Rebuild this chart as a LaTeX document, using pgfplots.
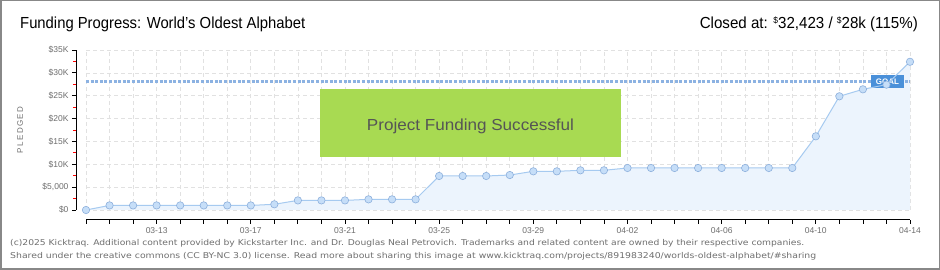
\documentclass[border=0pt]{standalone}
\usepackage{pgfplots}
\pgfplotsset{compat=1.18}
\usepackage{graphicx}
\usepackage{fontspec}
\setmainfont{Liberation Sans}
\newfontfamily\footfont{DejaVu Sans}
\definecolor{linec}{RGB}{166,202,240}
\definecolor{markfill}{RGB}{198,222,248}
\definecolor{markdraw}{RGB}{140,175,220}
\definecolor{areac}{RGB}{236,244,253}
\definecolor{goalc}{RGB}{140,178,226}
\definecolor{goalbox}{RGB}{74,144,217}
\definecolor{greenbox}{RGB}{168,218,82}
\definecolor{gridc}{RGB}{225,225,225}
\definecolor{labc}{RGB}{110,110,110}
\definecolor{framec}{RGB}{136,136,136}

\pgfplotstableread{
day value
0 0
1 1000
2 1000
3 1000
4 1000
5 1000
6 1000
7 1000
8 1250
9 2100
10 2100
11 2100
12 2330
13 2330
14 2330
15 7440
16 7440
17 7440
18 7650
19 8460
20 8460
21 8680
22 8680
23 9190
24 9190
25 9190
26 9190
27 9190
28 9190
29 9190
30 9190
31 16120
32 24870
33 26400
34 27420
35 32423
}\pledged

\begin{document}
\begin{tikzpicture}[x=1pt,y=1pt]
\fill[white] (0,0) rectangle (940,270);
\draw[framec, line width=1.5pt] (0.75,0.75) rectangle (939.25,269.25);
\node[anchor=west, inner sep=0] at (20,245.5) {\resizebox{285pt}{\height}{\fontsize{16}{16}\selectfont Funding Progress: World's Oldest Alphabet}};
\node[anchor=east, inner sep=0] at (918,245.5) {\resizebox{218pt}{\height}{\fontsize{16}{16}\selectfont Closed at: \raisebox{0.35em}{\fontsize{9}{9}\selectfont\$}32,423 / \raisebox{0.35em}{\fontsize{9}{9}\selectfont\$}28k (115\%)}};
\begin{axis}[
  at={(86pt,60pt)}, anchor=south west,
  width=824pt, height=160pt, scale only axis,
  xmin=0, xmax=35, ymin=0, ymax=35000,
  scaled y ticks=false,
  separate axis lines,
  axis x line*=bottom, axis y line*=left,
  axis x line shift=10pt, axis y line shift=10pt,
  axis line style={black, line width=1pt, -},
  xtick={3,7,...,35},
  xticklabels={03-13,03-17,03-21,03-25,03-29,04-02,04-06,04-10,04-14},
  minor xtick={0,...,35},
  ytick={0,5000,...,35000},
  yticklabels={\$0,{\$5,000},\$10K,\$15K,\$20K,\$25K,\$30K,\$35K},
  extra y ticks={2500,7500,...,32500},
  extra y tick labels={},
  extra y tick style={grid=none, major tick length=3pt, tick style={red, line width=0.8pt}},
  tick align=outside,
  major tick length=4pt, minor tick length=4pt,
  tick style={black, line width=0.8pt},
  xmajorgrids, xminorgrids, ymajorgrids,
  major grid style={gridc, dash pattern=on 4pt off 3pt, line width=0.7pt},
  minor grid style={gridc, dash pattern=on 4pt off 3pt, line width=0.7pt},
  tick label style={font=\fontsize{8.5}{8.5}\selectfont, text=labc},
  ylabel={P\,L\,E\,D\,G\,E\,D},
  every axis y label/.style={at={(axis description cs:-0.08,0.5)}, rotate=90, anchor=center, font=\fontsize{8}{8}\selectfont, text=labc},
  clip=false,
]
\addplot[fill=areac, draw=none] table[x=day, y=value] {\pledged} \closedcycle;
\addplot[goalc, line width=3pt, dash pattern=on 3pt off 1.6pt] coordinates {(0,28000) (35,28000)};
\node[fill=goalbox, text=white, minimum width=33pt, minimum height=13pt, inner sep=0, font=\bfseries\fontsize{8}{8}\selectfont] at (axis cs:34.04,28000) {GOAL};
\fill[greenbox] (axis cs:9.94,11594) rectangle (axis cs:22.72,26470);
\node[text={rgb,255:red,85;green,85;blue,85}, inner sep=0] at (axis cs:16.33,18375) {\resizebox{207pt}{\height}{\fontsize{16}{16}\selectfont Project Funding Successful}};
\addplot[linec, line width=1pt, mark=*, mark size=3.7pt, mark options={fill=markfill, draw=markdraw, line width=0.6pt}] table[x=day, y=value] {\pledged};
\end{axis}
\node[anchor=west, inner sep=0, text=labc] at (10,26.3) {\resizebox{794pt}{\height}{\footfont\fontsize{8}{8}\selectfont (c)2025 Kicktraq. Additional content provided by Kickstarter Inc. and Dr. Douglas Neal Petrovich. Trademarks and related content are owned by their respective companies.}};
\node[anchor=west, inner sep=0, text=labc] at (10,13.7) {\resizebox{806pt}{\height}{\footfont\fontsize{8}{8}\selectfont Shared under the creative commons (CC BY-NC 3.0) license. Read more about sharing this image at www.kicktraq.com/projects/891983240/worlds-oldest-alphabet/\#sharing}};
\end{tikzpicture}
\end{document}
